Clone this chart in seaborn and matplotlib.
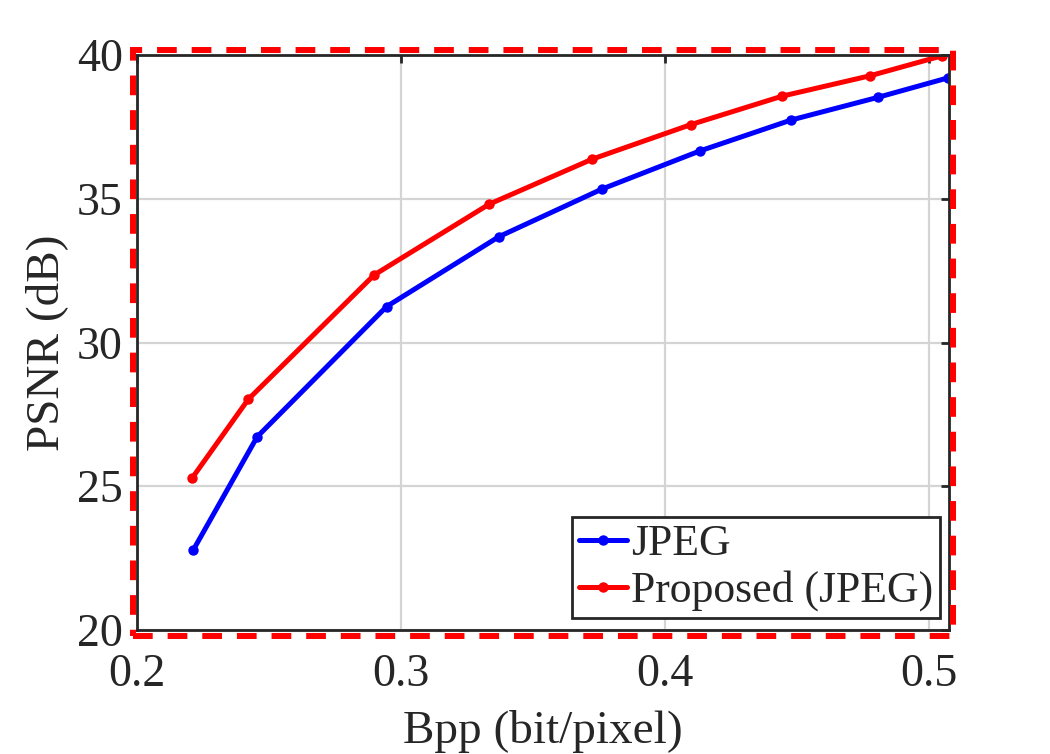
import numpy as np
import pandas as pd
import matplotlib
matplotlib.use("Agg")
import matplotlib.pyplot as plt
import seaborn as sns
from matplotlib.patches import Rectangle

# ---- data ----
series_names = ["JPEG", "Proposed (JPEG)"]
bpp_jpeg = [0.2214, 0.2456, 0.2946, 0.3371, 0.3762, 0.4131, 0.4478, 0.4807, 0.5073]
psnr_jpeg = [22.78, 26.72, 31.25, 33.68, 35.34, 36.66, 37.74, 38.53, 39.21]
bpp_prop = [0.2211, 0.2422, 0.2899, 0.3334, 0.3725, 0.4098, 0.4444, 0.4777, 0.5048]
psnr_prop = [25.30, 28.02, 32.35, 34.81, 36.38, 37.58, 38.57, 39.28, 39.97]
x_ticks = [0.2, 0.3, 0.4, 0.5]
x_tick_labels = ["0.2", "0.3", "0.4", "0.5"]
y_ticks = [20, 25, 30, 35, 40]
y_tick_labels = ["20", "25", "30", "35", "40"]

df = pd.DataFrame({
    "bpp": bpp_jpeg + bpp_prop,
    "psnr": psnr_jpeg + psnr_prop,
    "method": [series_names[0]] * len(bpp_jpeg) + [series_names[1]] * len(bpp_prop),
})

sns.set_style("white")
plt.rcParams["font.family"] = ["Liberation Serif", "DejaVu Serif"]

fig = plt.figure(figsize=(10.5, 7.54), dpi=100)
W, H = 1050, 754
ax_l, ax_r, ax_t, ax_b = 136.7, 949, 55, 630
ax = fig.add_axes([ax_l / W, 1 - ax_b / H, (ax_r - ax_l) / W, (ax_b - ax_t) / H])

sns.lineplot(data=df, x="bpp", y="psnr", hue="method", hue_order=series_names,
             palette=["#0000FF", "#FF0000"], marker="o", markersize=7.5,
             markeredgewidth=0, linewidth=3.6, sort=False, ax=ax, legend=True)

ax.set_xlim(0.2, 0.5075)
ax.set_ylim(20, 40)
ax.set_xticks(x_ticks)
ax.set_xticklabels(x_tick_labels)
ax.set_yticks(y_ticks)
ax.set_yticklabels(y_tick_labels)
ax.grid(True, color="#d4d4d4", linewidth=1.6)
ax.set_axisbelow(True)

for s in ax.spines.values():
    s.set_visible(True)
    s.set_color("#262626")
    s.set_linewidth(2.0)

ax.tick_params(axis="both", which="both", direction="in", length=6, width=2,
               colors="#262626", labelsize=33, top=True, right=True)
ax.tick_params(axis="x", pad=17)
ax.tick_params(axis="y", pad=10)
for lab in ax.get_xticklabels() + ax.get_yticklabels():
    lab.set_color("#262626")

ax.set_xlabel("Bpp (bit/pixel)", fontsize=34, color="#262626", labelpad=10)
ax.set_ylabel("PSNR (dB)", fontsize=34, color="#262626", labelpad=6)

leg = ax.legend(loc="lower right", bbox_to_anchor=(0.989, 0.021), borderaxespad=0,
                fontsize=31.5, frameon=True, fancybox=False, handlelength=1.1,
                handletextpad=0.1, labelspacing=0.15, borderpad=0.15)
leg.get_frame().set_edgecolor("#262626")
leg.get_frame().set_linewidth(2.0)
leg.get_frame().set_facecolor("white")
leg.get_frame().set_alpha(1)

# red dashed frame around the axes
rx0, rx1, ry0, ry1 = 132.5, 952.5, 49.5, 636
rect = Rectangle((rx0 / W, 1 - ry1 / H), (rx1 - rx0) / W, (ry1 - ry0) / H,
                 transform=fig.transFigure, fill=False, edgecolor="#FF0000",
                 linewidth=4.3, linestyle=(0, (3.3, 2.5)), clip_on=False, zorder=10)
fig.patches.append(rect)

fig.savefig("out.png", dpi=100)
